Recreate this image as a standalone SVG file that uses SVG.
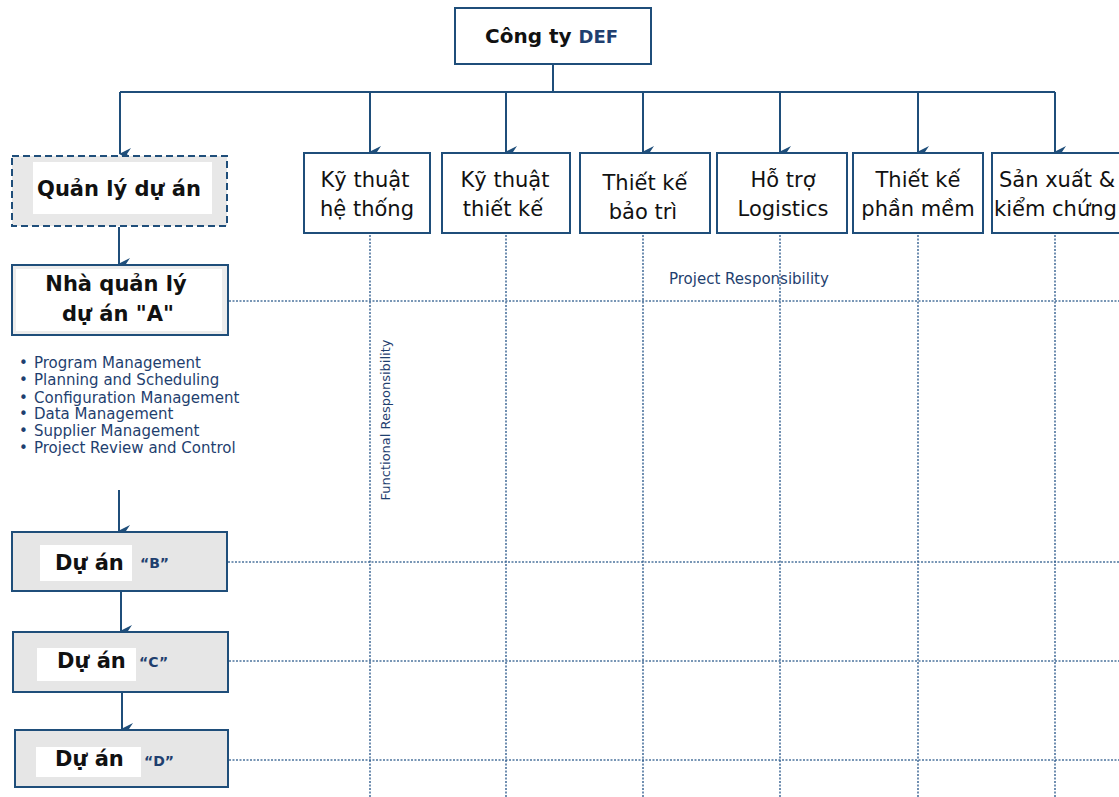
<svg xmlns="http://www.w3.org/2000/svg" width="1119" height="797" viewBox="0 0 1119 797">
<defs>
<marker id="arr" markerWidth="12" markerHeight="12" refX="6" refY="11" orient="auto-start-reverse" markerUnits="userSpaceOnUse" viewBox="0 0 12 12">
<path d="M0,0 L6,4 L12,0 L6,12 Z" fill="#1f4e7a"/>
</marker>
<style>
.ln{stroke:#1f4e7a;stroke-width:2;fill:none}
.dot{stroke:#2d5a8c;stroke-width:1.6;stroke-dasharray:2 1.5;fill:none;opacity:0.85}
.box{fill:#fff;stroke:#1f4e7a;stroke-width:2}
.gbox{fill:#e6e6e6;stroke:#1f4e7a;stroke-width:2}
.in{fill:#fff}
.fn{font-family:"DejaVu Sans",sans-serif;font-size:21px;fill:#111}
.mid{text-anchor:middle}
.bd{font-family:"DejaVu Sans",sans-serif;font-size:21px;font-weight:bold;fill:#111}
.nv{font-family:"DejaVu Sans",sans-serif;font-weight:bold;fill:#1f3f6f}
.lst{font-family:"DejaVu Sans",sans-serif;font-size:15px;fill:#1f3f6f}
.lbl{font-family:"DejaVu Sans",sans-serif;fill:#1f3f6f}
</style>
</defs>
<rect width="1119" height="797" fill="#fff"/>

<g id="connectors">
<path class="ln" d="M553,64 V92"/>
<path class="ln" d="M120,92 H1055"/>
<path class="ln" d="M120,92 V154" marker-end="url(#arr)"/>
<path class="ln" d="M370,92 V152" marker-end="url(#arr)"/>
<path class="ln" d="M506,92 V152" marker-end="url(#arr)"/>
<path class="ln" d="M643,92 V152" marker-end="url(#arr)"/>
<path class="ln" d="M780,92 V152" marker-end="url(#arr)"/>
<path class="ln" d="M918,92 V152" marker-end="url(#arr)"/>
<path class="ln" d="M1055,92 V152" marker-end="url(#arr)"/>
<path class="ln" d="M119,227 V264" marker-end="url(#arr)"/>
<path class="ln" d="M119,490 V531" marker-end="url(#arr)"/>
<path class="ln" d="M121,592 V631" marker-end="url(#arr)"/>
<path class="ln" d="M122,693 V729" marker-end="url(#arr)"/>
<g id="grid">
<path class="dot" d="M370,235 V797"/>
<path class="dot" d="M506,235 V797"/>
<path class="dot" d="M643,235 V797"/>
<path class="dot" d="M780,235 V797"/>
<path class="dot" d="M918,235 V797"/>
<path class="dot" d="M1055,235 V797"/>
<path class="dot" d="M229,301 H1119"/>
<path class="dot" d="M228,562 H1119"/>
<path class="dot" d="M229,661 H1119"/>
<path class="dot" d="M229,760 H1119"/>
</g>
</g>

<g id="node-company">
<rect class="box" x="455" y="8" width="196" height="56"/>
<text x="485" y="43" class="bd" style="font-size:20px">Công ty <tspan class="nv" style="font-size:18px">DEF</tspan></text>
</g>

<g id="node-qlda">
<rect x="12" y="156" width="215" height="70" fill="#e8e8e8" stroke="#1f4e7a" stroke-width="2" stroke-dasharray="7 4"/>
<rect class="in" x="33" y="162" width="179" height="52"/>
<text x="119" y="196" class="bd mid">Quản lý dự án</text>
</g>

<g id="node-nql-a">
<rect x="12" y="265" width="216" height="70" fill="#ececec" stroke="#1f4e7a" stroke-width="2"/>
<rect class="in" x="16" y="269" width="206" height="62"/>
<text x="116" y="291" class="bd mid">Nhà quản lý</text>
<text x="118" y="321" class="bd mid">dự án "A"</text>
</g>

<g id="list">
<text class="lst" x="19" y="368">•<tspan x="34">Program Management</tspan></text>
<text class="lst" x="19" y="385">•<tspan x="34">Planning and Scheduling</tspan></text>
<text class="lst" x="19" y="403">•<tspan x="34">Configuration Management</tspan></text>
<text class="lst" x="19" y="419">•<tspan x="34">Data Management</tspan></text>
<text class="lst" x="19" y="436">•<tspan x="34">Supplier Management</tspan></text>
<text class="lst" x="19" y="453">•<tspan x="34">Project Review and Control</tspan></text>
</g>

<g id="node-b">
<rect class="gbox" x="12" y="532" width="215" height="59"/>
<rect class="in" x="40" y="545" width="92" height="36"/>
<text x="55" y="570" class="bd">Dự án</text>
<text x="140" y="568" class="nv" style="font-size:14px">“B”</text>
</g>

<g id="node-c">
<rect class="gbox" x="13" y="632" width="215" height="60"/>
<rect class="in" x="37" y="648" width="99" height="33"/>
<text x="57" y="668" class="bd">Dự án</text>
<text x="139" y="667" class="nv" style="font-size:14px">“C”</text>
</g>

<g id="node-d">
<rect class="gbox" x="15" y="730" width="213" height="57"/>
<rect class="in" x="36" y="747" width="105" height="30"/>
<text x="55" y="766" class="bd">Dự án</text>
<text x="144" y="766" class="nv" style="font-size:14px">“D”</text>
</g>

<g id="node-f1">
<rect class="box" x="304" y="153" width="126" height="80"/>
<text class="fn mid" x="365" y="187">Kỹ thuật</text>
<text class="fn mid" x="367" y="216">hệ thống</text>
</g>
<g id="node-f2">
<rect class="box" x="442" y="153" width="128" height="80"/>
<text class="fn mid" x="505" y="187">Kỹ thuật</text>
<text class="fn mid" x="503" y="216">thiết kế</text>
</g>
<g id="node-f3">
<rect class="box" x="580" y="153" width="130" height="80"/>
<text class="fn mid" x="645" y="190">Thiết kế</text>
<text class="fn mid" x="643" y="219">bảo trì</text>
</g>
<g id="node-f4">
<rect class="box" x="717" y="153" width="130" height="80"/>
<text class="fn mid" x="783" y="187">Hỗ trợ</text>
<text class="fn mid" x="783" y="216">Logistics</text>
</g>
<g id="node-f5">
<rect class="box" x="853" y="153" width="130" height="80"/>
<text class="fn mid" x="918" y="187">Thiết kế</text>
<text class="fn mid" x="918" y="216">phần mềm</text>
</g>
<g id="node-f6">
<rect class="box" x="992" y="153" width="140" height="80"/>
<text class="fn" x="999" y="187">Sản xuất &amp;</text>
<text class="fn" x="994" y="216">kiểm chứng</text>
</g>

<g id="labels">
<text class="lbl" x="669" y="284" style="font-size:15px">Project Responsibility</text>
<text class="lbl mid" transform="translate(390,420) rotate(-90)" style="font-size:13px">Functional Responsibility</text>
</g>
</svg>
